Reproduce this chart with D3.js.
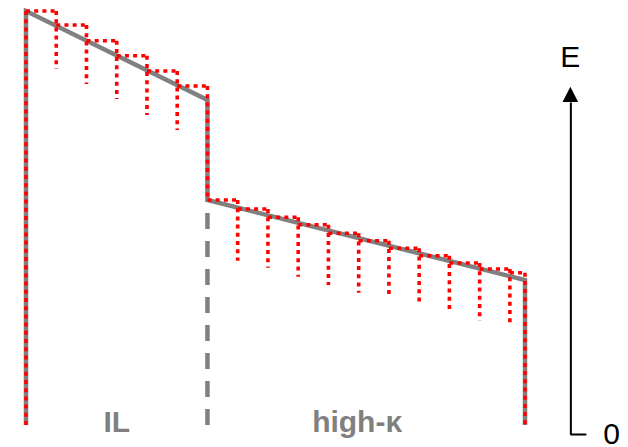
<!DOCTYPE html>
<html>
<head>
<meta charset="utf-8">
<script src="https://cdn.jsdelivr.net/npm/d3@7"></script>
<style>
  html, body { margin: 0; padding: 0; background: #fff; }
  svg { display: block; }
</style>
</head>
<body>
<svg id="chart" width="628" height="447"></svg>
<script>
// ---- data (x in layer-thickness units, E in arbitrary energy units) ----
const layerNames = ["IL", "high-κ"];
const layerBounds = [0, 6, 16.5];
const labelX = [3, 10.95];

// conduction band edge (gray)
const bandX = [0, 0, 6, 6, 16.5, 16.5];
const bandE = [0.9, 42.3, 33.4, 23.4, 15.4, 0.9];
const floorE = 0.9;

// discretised staircase (red dotted)
const stepX = [0, 1, 2, 3, 4, 5, 6, 7, 8, 9, 10, 11, 12, 13, 14, 15, 16, 16.5];
const plateauE = [42.3, 40.9, 39.33, 37.83, 36.3, 34.8,
                  23.4, 22.5, 21.67, 20.93, 20.07, 19.33, 18.57, 17.83, 17.1, 16.5, 16.13];
const tailE = [36.5, 35.0, 33.5, 31.9, 30.4, 23.4,
               17.33, 16.63, 15.73, 14.9, 14.13, 13.63, 12.83, 12.13, 11.33, 10.8, 0.9];

// energy axis
const axisX = 18;
const axisTop = 33.2;
const arrowTip = 34.73;
const axisTicks = [0];
const axisLabel = "E";
const axisLabelE = 36.7;

// ---- scales ----
const x = d3.scaleLinear().domain([0, 16.5]).range([26, 525]);
const y = d3.scaleLinear().domain([0, 42.4]).range([434, 10]);

const svg = d3.select("#chart");
const gray = "#808080";
const red = "#ff0000";

// dashed interface line (drawn from bottom upward)
svg.append("line")
  .attr("x1", x(layerBounds[1])).attr("x2", x(layerBounds[1]))
  .attr("y1", y(floorE)).attr("y2", y(bandE[3]))
  .attr("stroke", gray).attr("stroke-width", 4.5)
  .attr("stroke-dasharray", "16,12");

// band edge
const line = d3.line().x(d => x(d[0])).y(d => y(d[1]));
svg.append("path")
  .attr("d", line(bandX.map((v, i) => [v, bandE[i]])))
  .attr("fill", "none").attr("stroke", gray)
  .attr("stroke-width", 4.5).attr("stroke-linejoin", "miter");

// red staircase segments
const segs = [];
segs.push([[stepX[0], floorE], [stepX[0], plateauE[0]]]);
for (let i = 0; i < plateauE.length; i++) {
  segs.push([[stepX[i], plateauE[i]], [stepX[i + 1], plateauE[i]]]);
  segs.push([[stepX[i + 1], plateauE[i]], [stepX[i + 1], tailE[i]]]);
}
svg.append("g").selectAll("path").data(segs).join("path")
  .attr("d", d => line(d))
  .attr("fill", "none").attr("stroke", red)
  .attr("stroke-width", 3.6).attr("stroke-dasharray", "4,4.2");

// layer labels
svg.append("g").selectAll("text").data(layerNames).join("text")
  .attr("x", (d, i) => x(labelX[i]))
  .attr("y", y(0.2))
  .attr("text-anchor", "middle")
  .attr("font-family", "Liberation Sans, Arial, sans-serif")
  .attr("font-weight", "bold")
  .attr("font-size", 30)
  .attr("fill", gray)
  .text(d => d);

// energy axis
const ax = d3.scaleLinear().domain([0, axisTop]).range([y(0), y(axisTop)]);
const axG = svg.append("g").attr("transform", `translate(${x(axisX)},0)`)
  .call(d3.axisRight(ax).tickValues(axisTicks).tickSize(16).tickSizeOuter(0).tickPadding(17)
    .tickFormat(d3.format("d")));
axG.select(".domain").attr("stroke", "#000").attr("stroke-width", 2);
axG.selectAll(".tick line").attr("stroke", "#000").attr("stroke-width", 2);
axG.selectAll(".tick text")
  .attr("font-family", "Liberation Sans, Arial, sans-serif")
  .attr("font-size", 30).attr("fill", "#000");

// arrow head
const ah = 7.8;
svg.append("path")
  .attr("d", `M${x(axisX)},${y(arrowTip)} L${x(axisX) - ah},${y(axisTop)} L${x(axisX) + ah},${y(axisTop)} Z`)
  .attr("fill", "#000");

svg.append("text")
  .attr("x", x(axisX)).attr("y", y(axisLabelE))
  .attr("text-anchor", "middle")
  .attr("font-family", "Liberation Sans, Arial, sans-serif")
  .attr("font-size", 30).attr("fill", "#000")
  .text(axisLabel);
</script>
</body>
</html>
